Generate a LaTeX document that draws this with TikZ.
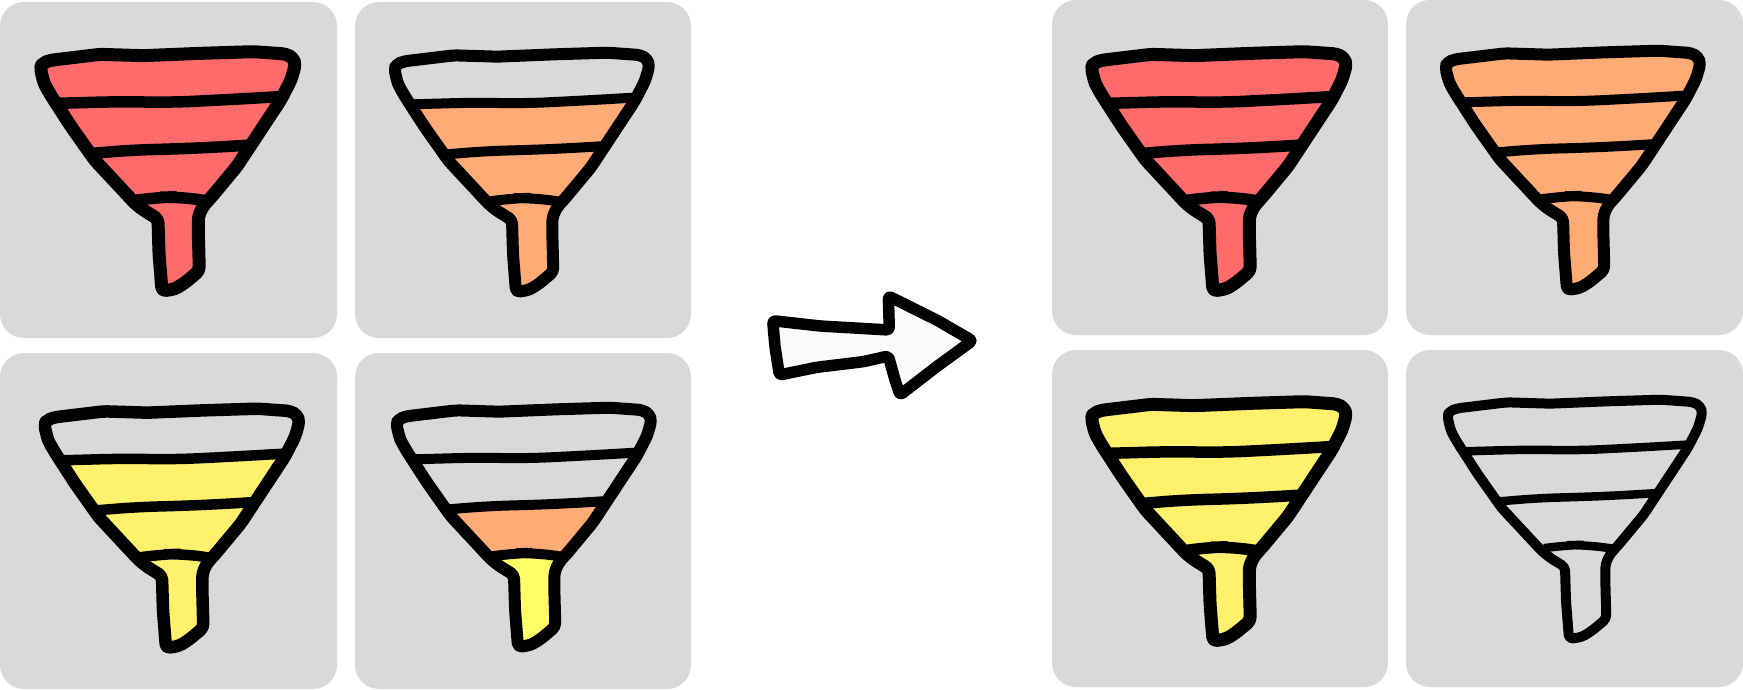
\documentclass[tikz,border=0pt]{standalone}
\definecolor{cardgray}{HTML}{D9D9D9}
\definecolor{fred}{HTML}{FF6B6B}
\definecolor{forange}{HTML}{FFAB76}
\definecolor{fyellow}{HTML}{FFF16B}
\definecolor{fbright}{HTML}{FFFF66}
\definecolor{arrowfill}{HTML}{FAFAFA}
\tikzset{
  card/.style={fill=cardgray,rounded corners=24pt},
  outline/.style={draw=black,rounded corners=4pt,line join=round,line cap=round},
  bandline/.style={draw=black,rounded corners=20pt,line cap=round}
}
\def\funneloutline{(121,205) -- (127,190) -- (150,181) -- (300,163) -- (430,167) -- (600,160) -- (760,155) -- (858,162) -- (880,174) -- (886,195) -- (873,240) -- (842,300) -- (776,400) -- (710,500) -- (635,590) -- (608,620) -- (595,650) -- (595,700) -- (598,812) -- (555,848) -- (525,867) -- (486,873) -- (477,760) -- (474,657) -- (430,630) -- (405,610) -- (284,480) -- (212,378) -- (152,285) -- (132,250) -- cycle}
\def\lineA{(172,310) -- (350,305) -- (520,307) -- (700,298) -- (838,290)}
\def\lineB{(277,460) -- (400,450) -- (520,447) -- (640,442) -- (753,435)}
\def\lineC{(414,600) -- (470,592) -- (540,590) -- (623,603)}
% #1 dx, #2 dy, #3-#6 band colours, #7 outline width, #8 band line width
\newcommand{\funnelicon}[8]{%
\begin{scope}[shift={(#1,#2)}]
\begin{scope}[x=.33333pt,y=-.33333pt]
\begin{scope}
\clip[rounded corners=4pt] \funneloutline;
\fill[#3] (0,0) rectangle (1000,1000);
\fill[#4] \lineA -- (1000,290) -- (1000,1000) -- (0,1000) -- (0,310) -- cycle;
\fill[#5] \lineB -- (1000,435) -- (1000,1000) -- (0,1000) -- (0,460) -- cycle;
\fill[#6] \lineC -- (1000,603) -- (1000,1000) -- (0,1000) -- (0,600) -- cycle;
\end{scope}
\draw[bandline,line width=#8pt] \lineA;
\draw[bandline,line width=#8pt] \lineB;
\draw[bandline,line width=#8pt] \lineC;
\draw[outline,line width=#7pt] \funneloutline;
\end{scope}
\end{scope}}
\begin{document}
\begin{tikzpicture}[x=1pt,y=-1pt]
\useasboundingbox (0,0) rectangle (1743,689);
% cards
\fill[card] (0,2) rectangle (337,338);
\fill[card] (355,2) rectangle (691,338);
\fill[card] (0,353) rectangle (337,689);
\fill[card] (355,353) rectangle (691,689);
\fill[card] (1052,0) rectangle (1388,335);
\fill[card] (1406,0) rectangle (1743,335);
\fill[card] (1052,350) rectangle (1388,687);
\fill[card] (1406,350) rectangle (1743,687);
% funnels
\funnelicon{0}{0}{fred}{fred}{fred}{fred}{13}{11.5}
\funnelicon{354}{1}{cardgray}{forange}{forange}{forange}{12}{10}
\funnelicon{4}{357}{cardgray}{fyellow}{fyellow}{fyellow}{12.5}{10.5}
\funnelicon{356}{356}{cardgray}{cardgray}{forange}{fbright}{12}{10}
\funnelicon{1051}{0}{fred}{fred}{fred}{fred}{13}{11.5}
\funnelicon{1405}{-1}{forange}{forange}{forange}{forange}{12}{10}
\funnelicon{1051}{350}{fyellow}{fyellow}{fyellow}{fyellow}{13}{11.5}
\funnelicon{1407}{348}{cardgray}{cardgray}{cardgray}{cardgray}{10}{8.5}
% arrow
\begin{scope}[shift={(740,270)},x=.33333pt,y=-.33333pt]
\draw[fill=arrowfill,line width=11.5pt,rounded corners=3pt,line join=round]
 (98,152) -- (240,168) -- (448,180) -- (445,78) -- (590,150) -- (697,212) -- (590,290) -- (480,375) -- (465,330) -- (445,258) -- (370,275) -- (230,292) -- (118,315) -- (105,230) -- cycle;
\end{scope}
\end{tikzpicture}
\end{document}
